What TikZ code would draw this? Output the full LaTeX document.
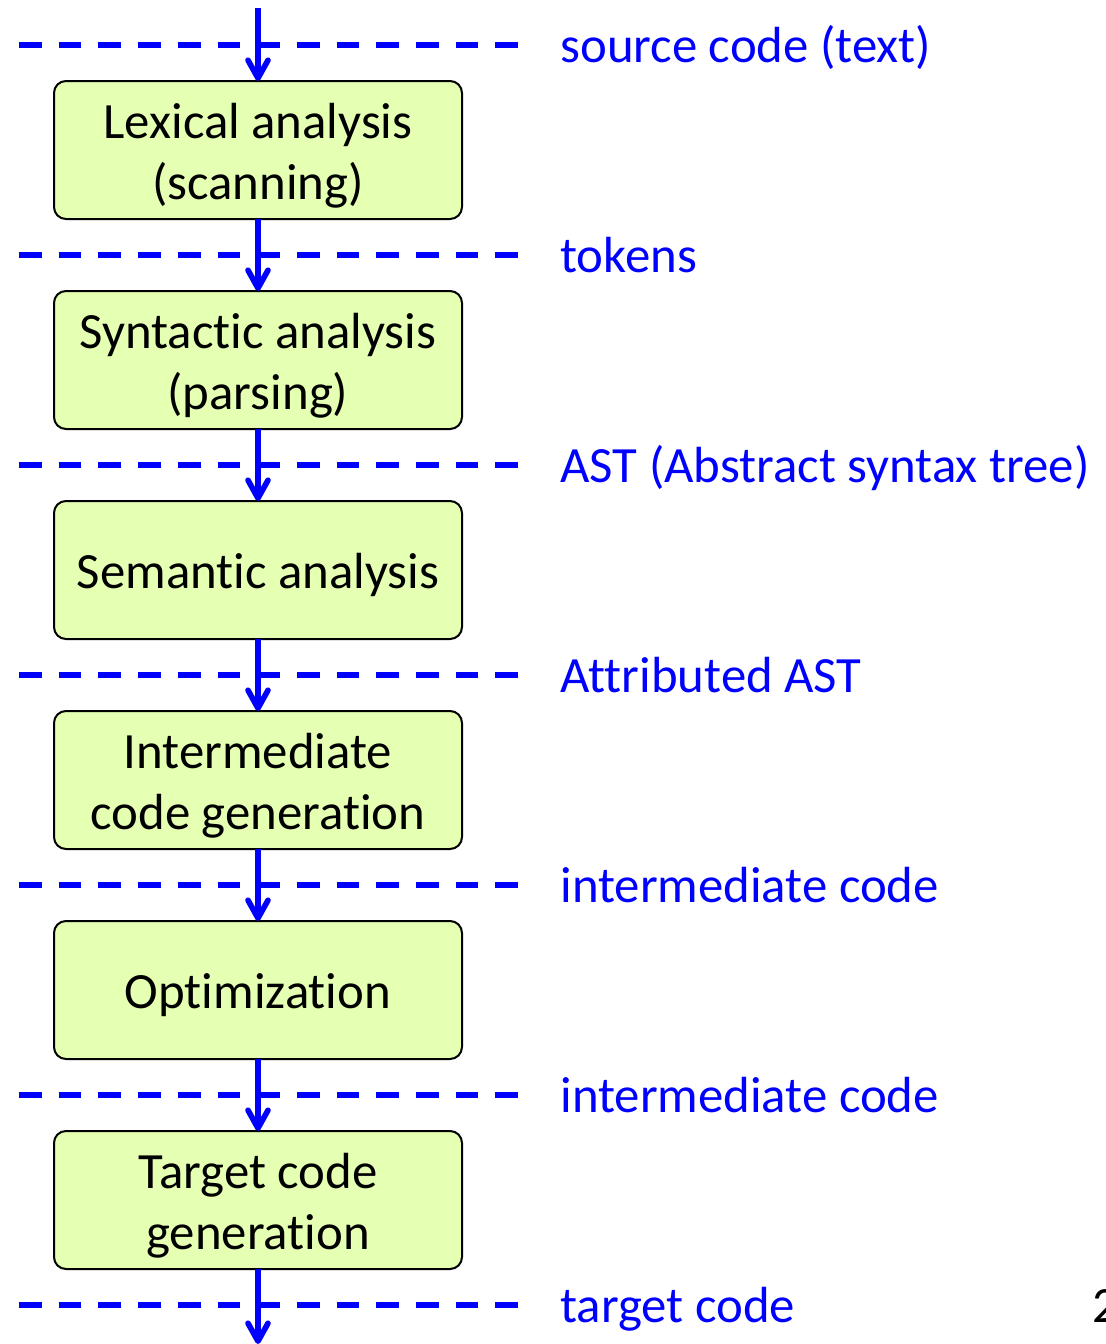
\documentclass[tikz,border=0pt]{standalone}
\usepackage{fontspec}
\setmainfont{Carlito}[Ligatures=NoCommon]
\usetikzlibrary{arrows.meta}
\usetikzlibrary{positioning}
\definecolor{phasefill}{RGB}{229,255,179}
\definecolor{flowblue}{RGB}{0,0,255}

\begin{document}
\begin{tikzpicture}[x=0.5pt,y=-0.5pt,
        phase/.style={draw=black,line width=1pt,fill=phasefill,rounded corners=6pt,
            minimum width=204pt,minimum height=69pt,inner sep=0pt,outer sep=0pt,
            text width=200pt,align=flush center,
            font=\fontsize{25.4}{30.5}\selectfont,execute at begin node={\rule{0pt}{23pt}}},
        flow/.style={draw=flowblue,line width=2.8pt,-{Straight Barb[length=9pt,width=10pt,round]}},
        cut/.style={draw=flowblue,line width=2.8pt,dash pattern=on 11.35pt off 8.5pt},
        data/.style={anchor=base west,inner sep=0pt,text=flowblue,font=\fontsize{25.4}{30}\selectfont}]
        \useasboundingbox (0,0) rectangle (1106,1344);

        % Dashed borders between the phases
        \foreach \y in {45,255,465,675,885,1095,1305}
            \draw[cut] (19,\y) -- (518,\y);

        % What flows between the phases
        \node[data] (src) at (560,62) {source code (text)};
        \node[data] (tok) at (560,272) {tokens};
        \node[data] (ast) at (560,482) {AST (Abstract syntax tree)};
        \node[data] (aast) at (560,692) {Attributed AST};
        \node[data] (ir1) at (560,902) {intermediate code};
        \node[data] (ir2) at (560,1112) {intermediate code};
        \node[data] (tgt) at (560,1322) {target code};

        % The phases
        \node[phase] (lex) at (258,150) {Lexical analysis\\(scanning)};
        \node[phase, below=36pt of lex] (syn) {Syntactic analysis\\(parsing)};
        \node[phase, below=36pt of syn] (sem) {Semantic analysis};
        \node[phase, below=36pt of sem] (gen) {Intermediate\\code generation};
        \node[phase, below=36pt of gen] (opt) {Optimization};
        \node[phase, below=36pt of opt] (code) {Target code\\generation};

        % Ends of the chain
        \coordinate (in) at (258,8);
        \coordinate (out) at (258,1344);

        % Arrows
        \draw[flow] (in) -- (lex.north);
        \draw[flow] (lex) -- (syn);
        \draw[flow] (syn) -- (sem);
        \draw[flow] (sem) -- (gen);
        \draw[flow] (gen) -- (opt);
        \draw[flow] (opt) -- (code);
        \draw[flow] (code) -- (out);

        % Page number, cut at the edge
        \node[anchor=base west,inner sep=0pt,font=\fontsize{25.4}{30}\selectfont] (page) at (1092,1322) {2};
\end{tikzpicture}
\end{document}
